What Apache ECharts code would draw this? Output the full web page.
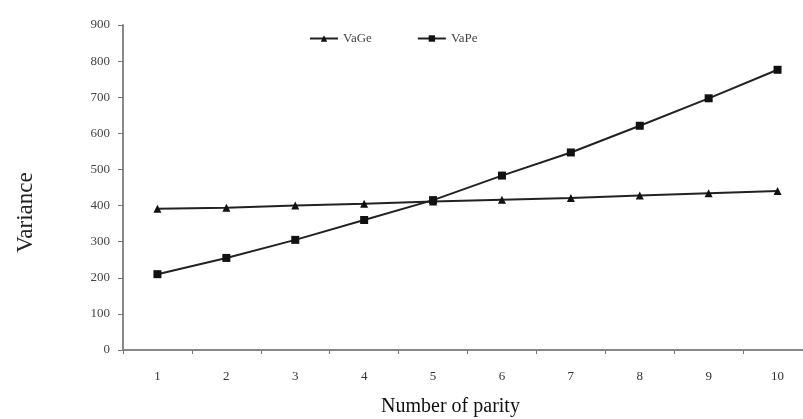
<!DOCTYPE html>
<html>
<head>
<meta charset="utf-8">
<script src="https://cdn.jsdelivr.net/npm/echarts@6/dist/echarts.min.js"></script>
<style>
  html, body { margin: 0; padding: 0; background: #fff; }
  #main { width: 803px; height: 419px; }
</style>
</head>
<body>
<div id="main"></div>
<script>
  // 胎次
  var parity = ['1', '2', '3', '4', '5', '6', '7', '8', '9', '10'];
  // 方差
  var vaGe = [391, 394, 400, 405, 411, 416, 421, 428, 434, 440];
  var vaPe = [210, 255, 305, 360, 415, 483, 547, 621, 697, 776];

  var chart = echarts.init(document.getElementById('main'));
  var font = '"Liberation Serif", "DejaVu Serif", serif';

  var option = {
    animation: false,
    backgroundColor: '#fff',
    textStyle: { fontFamily: font },
    legend: {
      top: 27,
      left: 304,
      itemGap: 45,
      itemWidth: 28,
      itemHeight: 8,
      textStyle: { fontFamily: font, fontSize: 13, color: '#444' },
      data: ['VaGe', 'VaPe']
    },
    grid: { left: 123, right: -9, top: 25, bottom: 69, outerBoundsMode: 'none' },
    xAxis: {
      type: 'category',
      data: parity,
      boundaryGap: true,
      name: 'Number of parity',
      nameLocation: 'middle',
      nameGap: 47,
      nameTextStyle: { fontFamily: font, fontSize: 20, color: '#111', padding: [0, 34, 0, 0] },
      axisLine: { lineStyle: { color: '#888', width: 2 } },
      axisTick: { show: true, length: 4, lineStyle: { color: '#777' } },
      axisLabel: { fontFamily: font, fontSize: 13, color: '#333', margin: 20 }
    },
    yAxis: {
      type: 'value',
      min: 0,
      max: 900,
      interval: 100,
      name: 'Variance',
      nameLocation: 'middle',
      nameGap: 86,
      nameTextStyle: { fontFamily: font, fontSize: 23, color: '#222', padding: [0, 50, 0, 0] },
      splitLine: { show: false },
      axisLine: { show: true, lineStyle: { color: '#888', width: 2 } },
      axisTick: { show: true, length: 5, lineStyle: { color: '#777' } },
      axisLabel: { fontFamily: font, fontSize: 13, color: '#444', margin: 13 }
    },
    series: [
      {
        name: 'VaGe',
        type: 'line',
        data: vaGe,
        symbol: 'triangle',
        symbolSize: 8,
        color: '#111',
        lineStyle: { color: '#222', width: 2 },
        itemStyle: { color: '#111' }
      },
      {
        name: 'VaPe',
        type: 'line',
        data: vaPe,
        symbol: 'rect',
        symbolSize: 8,
        color: '#111',
        lineStyle: { color: '#222', width: 2 },
        itemStyle: { color: '#111' }
      }
    ]
  };

  option && chart.setOption(option);
</script>
</body>
</html>
